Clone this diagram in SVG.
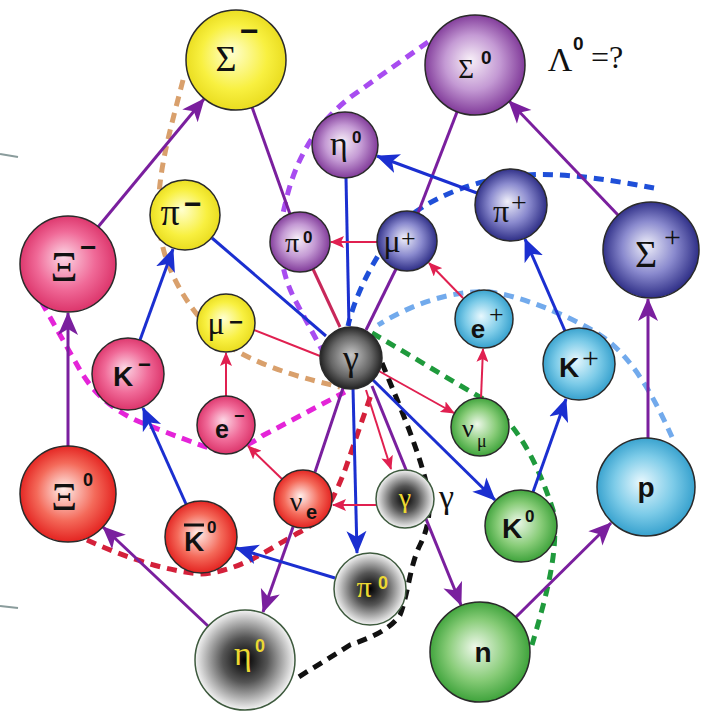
<svg xmlns="http://www.w3.org/2000/svg" width="703" height="714" viewBox="0 0 703 714">
<style>
.gk{font-family:"Liberation Serif","DejaVu Serif",serif;fill:#111;text-anchor:middle}
.sr{font-family:"Liberation Serif","DejaVu Serif",serif;fill:#111}
.bs{font-family:"Liberation Sans","DejaVu Sans",sans-serif;font-weight:bold;fill:#111}
.bm{font-family:"Liberation Sans","DejaVu Sans",sans-serif;font-weight:bold;fill:#111;text-anchor:middle}
.yl{fill:#ecd832}
.nd{stroke:#2a2a2a;stroke-width:1.5}
.ng{stroke:#3e5a3e;stroke-width:1.5}
.lp{stroke:#7a1f9e;stroke-width:3;fill:none}
.lb{stroke:#1b2fd0;stroke-width:3;fill:none}
.lr{stroke:#e02050;stroke-width:2;fill:none}
.d{fill:none;stroke-width:5;stroke-dasharray:10 7}
</style>
<defs>
<marker id="ap" markerUnits="userSpaceOnUse" markerWidth="24" markerHeight="22" refX="22" refY="11" orient="auto"><path d="M0,1 L23,11 L0,21 L6,11 z" fill="#7a1f9e"/></marker>
<marker id="ab" markerUnits="userSpaceOnUse" markerWidth="24" markerHeight="22" refX="22" refY="11" orient="auto"><path d="M0,1 L23,11 L0,21 L6,11 z" fill="#1b2fd0"/></marker>
<marker id="ar" markerUnits="userSpaceOnUse" markerWidth="14" markerHeight="12" refX="13" refY="6" orient="auto"><path d="M0,0 L14,6 L0,12 L3,6 z" fill="#e02050"/></marker>
<radialGradient id="gy" cx="50%" cy="50%" r="55%" fx="45%" fy="42%"><stop offset="0" stop-color="#ffffd0"/><stop offset="0.6" stop-color="#f8f040"/><stop offset="1" stop-color="#e6d818"/></radialGradient>
<radialGradient id="gk" cx="50%" cy="50%" r="55%" fx="45%" fy="42%"><stop offset="0" stop-color="#fcd8e6"/><stop offset="0.55" stop-color="#f06a98"/><stop offset="1" stop-color="#d82a62"/></radialGradient>
<radialGradient id="gp" cx="50%" cy="50%" r="55%" fx="45%" fy="45%"><stop offset="0" stop-color="#f8f0f8"/><stop offset="0.5" stop-color="#c49ad4"/><stop offset="1" stop-color="#74288e"/></radialGradient>
<radialGradient id="gn" cx="50%" cy="50%" r="55%" fx="45%" fy="45%"><stop offset="0" stop-color="#f0f0fa"/><stop offset="0.5" stop-color="#8a8ace"/><stop offset="1" stop-color="#1c1c78"/></radialGradient>
<radialGradient id="gc" cx="50%" cy="50%" r="55%" fx="45%" fy="45%"><stop offset="0" stop-color="#e8f8fe"/><stop offset="0.55" stop-color="#7ccbe8"/><stop offset="1" stop-color="#2898c8"/></radialGradient>
<radialGradient id="gg" cx="50%" cy="50%" r="55%" fx="45%" fy="45%"><stop offset="0" stop-color="#eef8ea"/><stop offset="0.55" stop-color="#88cc78"/><stop offset="1" stop-color="#2e9a2e"/></radialGradient>
<radialGradient id="gr" cx="50%" cy="50%" r="55%" fx="45%" fy="45%"><stop offset="0" stop-color="#fff0ec"/><stop offset="0.55" stop-color="#f46a5a"/><stop offset="1" stop-color="#e01414"/></radialGradient>
<radialGradient id="gd" cx="50%" cy="50%" r="50%"><stop offset="0" stop-color="#000"/><stop offset="0.45" stop-color="#555"/><stop offset="1" stop-color="#f4f4f4"/></radialGradient>
<radialGradient id="gb" cx="50%" cy="50%" r="55%" fx="50%" fy="45%"><stop offset="0" stop-color="#c8c8c8"/><stop offset="0.6" stop-color="#666"/><stop offset="1" stop-color="#111"/></radialGradient>
</defs>
<rect width="703" height="714" fill="#fff"/>
<g id="slide-marks" stroke="#8a9c9c" stroke-width="2">
<line x1="0" y1="154" x2="18" y2="157"/>
<line x1="0" y1="606" x2="18" y2="608"/>
</g>
<g id="connectors">
<path class="d" stroke="#d9a06c" d="M183,80 C168,140 148,200 165,255 C178,295 205,330 235,350 C270,370 310,380 340,387"/>
<path class="d" stroke="#a84cf0" d="M428,42 L352,96 Q300,135 285,205 Q272,255 295,300 L322,350"/>
<path class="d" stroke="#1f4fd8" d="M654,188 C600,178 540,168 490,180 C450,190 420,205 400,225 C375,255 355,295 348,326"/>
<path class="d" stroke="#72aaec" d="M672,437 C655,400 632,352 592,330 C560,312 520,296 490,292 C450,290 410,305 378,325"/>
<path class="d" stroke="#1f9a3c" d="M372,333 C410,355 450,380 485,400 C520,425 540,470 553,510 C560,550 545,600 532,645"/>
<path class="d" stroke="#e424d8" d="M33,287 Q60,335 80,370 Q100,405 140,422 Q185,440 215,450 Q240,452 262,436 L345,392"/>
<path class="d" stroke="#d4203a" d="M87,540 C120,555 160,570 200,574 C240,572 270,548 300,532 C325,520 335,495 345,470 L372,392"/>
<path class="d" stroke="#111" d="M382,363 C395,395 415,440 425,478 C432,505 430,525 420,545 C410,565 408,595 400,615 C390,630 370,638 350,645 L297,678"/>
<line class="lp" x1="98" y1="227" x2="204" y2="99" marker-end="url(#ap)"/>
<line class="lp" x1="252" y1="107" x2="290" y2="214"/>
<line class="lp" x1="457" y1="112" x2="418" y2="213"/>
<line class="lp" x1="618" y1="215" x2="509" y2="101" marker-end="url(#ap)"/>
<line class="lp" x1="68" y1="446" x2="68" y2="313" marker-end="url(#ap)"/>
<line class="lp" x1="648" y1="438" x2="648" y2="299" marker-end="url(#ap)"/>
<line class="lp" x1="208" y1="626" x2="103" y2="527" marker-end="url(#ap)"/>
<line class="lp" x1="293" y1="527" x2="263" y2="612" marker-end="url(#ap)"/>
<line class="lp" x1="372" y1="386" x2="461" y2="605" marker-end="url(#ap)"/>
<line class="lp" x1="516" y1="617" x2="611" y2="523" marker-end="url(#ap)"/>
<line class="lp" x1="343" y1="388" x2="315" y2="472"/>
<line class="lp" x1="366" y1="330" x2="396" y2="269"/>
<line stroke="#c8285a" stroke-width="3" x1="340" y1="327" x2="313" y2="269"/>
<line class="lb" x1="140" y1="340" x2="173" y2="249" marker-end="url(#ab)"/>
<line class="lb" x1="186" y1="504" x2="143" y2="408" marker-end="url(#ab)"/>
<line class="lb" x1="212" y1="238" x2="326" y2="336"/>
<line class="lb" x1="346" y1="178" x2="349" y2="326"/>
<line class="lb" x1="477" y1="193" x2="377" y2="156" marker-end="url(#ab)"/>
<line class="lb" x1="565" y1="331" x2="525" y2="239" marker-end="url(#ab)"/>
<line class="lb" x1="533" y1="492" x2="566" y2="399" marker-end="url(#ab)"/>
<line class="lb" x1="372" y1="379" x2="495" y2="500" marker-end="url(#ab)"/>
<line class="lb" x1="353" y1="388" x2="357" y2="553" marker-end="url(#ab)"/>
<line class="lb" x1="335" y1="578" x2="236" y2="548" marker-end="url(#ab)"/>
<line class="lr" x1="481" y1="398" x2="483" y2="349" marker-end="url(#ar)"/>
<line class="lr" x1="463" y1="298" x2="429" y2="263" marker-end="url(#ar)"/>
<line class="lr" x1="377" y1="242" x2="331" y2="242" marker-end="url(#ar)"/>
<line class="lr" x1="254" y1="330" x2="320" y2="356"/>
<line class="lr" x1="226" y1="396" x2="226" y2="353" marker-end="url(#ar)"/>
<line class="lr" x1="282" y1="479" x2="248" y2="446" marker-end="url(#ar)"/>
<line class="lr" x1="376" y1="505" x2="333" y2="505" marker-end="url(#ar)"/>
<line class="lr" x1="377" y1="370" x2="454" y2="413" marker-end="url(#ar)"/>
<line class="lr" x1="366" y1="390" x2="391" y2="469" marker-end="url(#ar)"/>
</g>
<g id="n-sigma-minus"><circle cx="236" cy="60" r="50" fill="url(#gy)" class="nd"/><text class="gk" x="226" y="71" font-size="36">Σ</text><text class="bs" x="240" y="42" font-size="32">−</text></g>
<g id="n-sigma-zero"><circle cx="475" cy="65" r="50" fill="url(#gp)" class="nd"/><text class="gk" x="466" y="78" font-size="27">Σ</text><text class="bs" x="481" y="64" font-size="19">0</text></g>
<g id="lambda-note"><text class="gk" x="560" y="71" font-size="34">Λ</text><text class="bs" x="573" y="50" font-size="19">0</text><text class="sr" x="591" y="68" font-size="32">=?</text></g>
<g id="n-eta-zero-a"><circle cx="345" cy="145" r="33" fill="url(#gp)" class="nd"/><text class="gk" x="339" y="155" font-size="34">η</text><text class="bs" x="352" y="143" font-size="17">0</text></g>
<g id="n-pi-plus"><circle cx="511" cy="205" r="36" fill="url(#gn)" class="nd"/><text class="gk" x="501" y="222" font-size="32">π</text><text class="sr" x="511" y="212" font-size="28">+</text></g>
<g id="n-sigma-plus"><circle cx="651" cy="250" r="48" fill="url(#gn)" class="nd"/><text class="gk" x="646" y="267" font-size="38">Σ</text><text class="sr" x="664" y="247" font-size="30">+</text></g>
<g id="n-xi-minus"><circle cx="68" cy="264" r="48" fill="url(#gk)" class="nd"/><text class="gk" x="64" y="281" font-size="42">Ξ</text><text class="bs" x="80" y="257" font-size="28">−</text></g>
<g id="n-pi-minus"><circle cx="185" cy="215" r="35" fill="url(#gy)" class="nd"/><text class="gk" x="170" y="225" font-size="38">π</text><text class="bs" x="184" y="214" font-size="30">−</text></g>
<g id="n-pi-zero-a"><circle cx="300" cy="242" r="30" fill="url(#gp)" class="nd"/><text class="gk" x="292" y="252" font-size="28">π</text><text class="bs" x="303" y="243" font-size="17">0</text></g>
<g id="n-mu-plus"><circle cx="407" cy="241" r="30" fill="url(#gn)" class="nd"/><text class="gk" x="392" y="252" font-size="32">μ</text><text class="sr" x="401" y="247" font-size="26">+</text></g>
<g id="n-mu-minus"><circle cx="226" cy="323" r="29" fill="url(#gy)" class="nd"/><text class="gk" x="216" y="334" font-size="32">μ</text><text class="bs" x="229" y="330" font-size="24">−</text></g>
<g id="n-e-plus"><circle cx="484" cy="319" r="29" fill="url(#gc)" class="nd"/><text class="bm" x="478" y="338" font-size="26">e</text><text class="sr" x="489" y="323" font-size="26">+</text></g>
<g id="n-gamma"><circle cx="351" cy="358" r="31" fill="url(#gb)" class="nd"/><text class="gk" x="351" y="370" font-size="36">γ</text></g>
<g id="n-k-minus"><circle cx="128" cy="374" r="36" fill="url(#gk)" class="nd"/><text class="bm" x="123" y="386" font-size="28">K</text><text class="bs" x="138" y="372" font-size="22">−</text></g>
<g id="n-e-minus"><circle cx="226" cy="425" r="29" fill="url(#gk)" class="nd"/><text class="bm" x="222" y="438" font-size="25">e</text><text class="bs" x="234" y="422" font-size="18">−</text></g>
<g id="n-nu-mu"><circle cx="480" cy="427" r="29" fill="url(#gg)" class="nd"/><text class="gk" x="468" y="437" font-size="26">ν</text><text class="sr" x="477" y="447" font-size="18">μ</text></g>
<g id="n-k-plus"><circle cx="579" cy="364" r="36" fill="url(#gc)" class="nd"/><text class="bm" x="569" y="377" font-size="28">K</text><text class="sr" x="582" y="368" font-size="30">+</text></g>
<g id="n-xi-zero"><circle cx="68" cy="494" r="48" fill="url(#gr)" class="nd"/><text class="gk" x="64" y="510" font-size="40">Ξ</text><text class="bs" x="83" y="486" font-size="18">0</text></g>
<g id="n-nu-e"><circle cx="303" cy="499" r="29" fill="url(#gr)" class="nd"/><text class="gk" x="296" y="511" font-size="28">ν</text><text class="bs" x="306" y="519" font-size="20">e</text></g>
<g id="n-gamma-small"><circle cx="405" cy="499" r="29" fill="url(#gd)" class="ng"/><text class="gk yl" x="405" y="507" font-size="28">γ</text></g>
<g id="gamma-label"><text class="sr" x="439" y="508" font-size="34">γ</text></g>
<g id="n-k-zero"><circle cx="521" cy="526" r="36" fill="url(#gg)" class="nd"/><text class="bm" x="512" y="538" font-size="28">K</text><text class="bs" x="525" y="522" font-size="17">0</text></g>
<g id="n-p"><circle cx="646" cy="487" r="49" fill="url(#gc)" class="nd"/><text class="bm" x="646" y="497" font-size="28">p</text></g>
<g id="n-k-zero-bar"><circle cx="201" cy="537" r="36" fill="url(#gr)" class="nd"/><text class="bm" x="194" y="551" font-size="28">K</text><line x1="184" y1="525" x2="204" y2="525" stroke="#111" stroke-width="3"/><text class="bs" x="207" y="533" font-size="17">0</text></g>
<g id="n-pi-zero-b"><circle cx="370" cy="589" r="36" fill="url(#gd)" class="ng"/><text class="gk yl" x="364" y="597" font-size="30">π</text><text class="bs yl" x="378" y="589" font-size="18">0</text></g>
<g id="n-eta-zero-b"><circle cx="245" cy="660" r="50" fill="url(#gd)" class="ng"/><text class="gk yl" x="243" y="665" font-size="34">η</text><text class="bs yl" x="255" y="652" font-size="18">0</text></g>
<g id="n-n"><circle cx="480" cy="652" r="50" fill="url(#gg)" class="nd"/><text class="bm" x="483" y="662" font-size="28">n</text></g>
</svg>
